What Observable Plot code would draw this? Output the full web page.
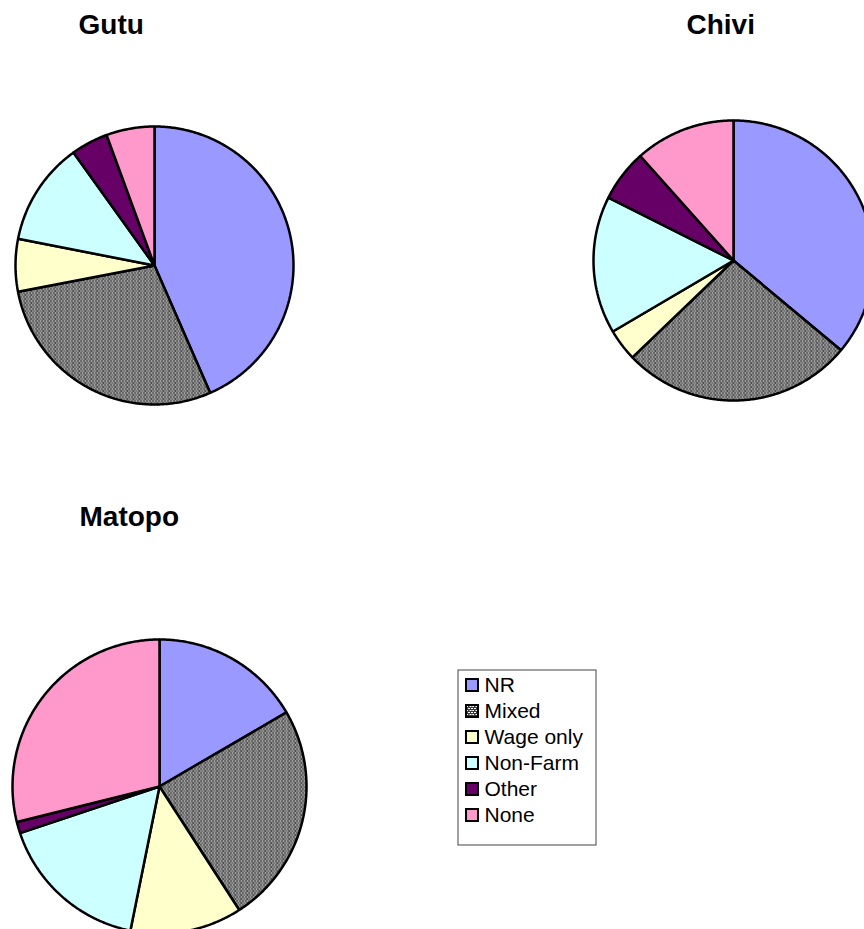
<!DOCTYPE html>
<html><head><meta charset="utf-8">
<script src="https://cdn.jsdelivr.net/npm/d3@7"></script>
<script src="https://cdn.jsdelivr.net/npm/@observablehq/plot@0.6"></script>
<style>
body{margin:0;background:#fff;}
#chart{width:864px;height:929px;overflow:hidden;}
</style>
</head><body><div id="chart"></div>
<script>
// ---- data ----
const categories = ["NR", "Mixed", "Wage only", "Non-Farm", "Other", "None"];
const regions = ["Gutu", "Chivi", "Matopo"];
const gutuShares = [43.4, 28.5, 6.1, 12.0, 4.3, 5.6];
const chiviShares = [36.1, 26.8, 3.7, 15.9, 6.0, 11.6];
const matopoShares = [16.6, 24.3, 12.3, 16.7, 1.25, 28.9];
const categoryColors = ["#9999FF", "url(#mixed-pattern)", "#FFFFCC", "#CCFFFF", "#660066", "#FF99CC"];

// ---- layout ----
const W = 864, H = 929;
const shares = [gutuShares, chiviShares, matopoShares];
const pieLayout = [
  {cx: 154, cy: 265, r: 139, tx: 78, ty: 25},
  {cx: 733, cy: 260, r: 140, tx: 686, ty: 25},
  {cx: 159, cy: 786, r: 147, tx: 79, ty: 517}
];
const legend = {x1: 458, x2: 596, y1: 670, y2: 845, sw: 12, sx: 466, tx: 484, row0: 685, step: 26};

const wedges = [];
regions.forEach((reg, i) => {
  const L = pieLayout[i];
  const arcs = d3.pie().sort(null)(shares[i]);
  arcs.forEach((a, j) => {
    const id = reg + "-" + j;
    const pts = [[L.cx, L.cy]];
    const n = Math.max(2, Math.ceil((a.endAngle - a.startAngle) / 0.01));
    for (let k = 0; k <= n; k++) {
      const t = a.startAngle + (a.endAngle - a.startAngle) * k / n;
      pts.push([L.cx + L.r * Math.sin(t), L.cy - L.r * Math.cos(t)]);
    }
    pts.push([L.cx, L.cy]);
    pts.forEach(p => wedges.push({id, cat: categories[j], x: p[0], y: p[1]}));
  });
});

const titles = regions.map((r, i) => ({name: r, x: pieLayout[i].tx, y: pieLayout[i].ty}));
const legendRows = categories.map((c, i) => ({cat: c, y: legend.row0 + legend.step * i}));

const chart = Plot.plot({
  width: W, height: H,
  margin: 0,
  x: {type: "identity", axis: null},
  y: {type: "identity", axis: null},
  color: {domain: categories, range: categoryColors},
  style: {fontFamily: "'Liberation Sans', Arial, sans-serif", background: "#fff", color: "#000"},
  marks: [
    Plot.line(wedges, {x: "x", y: "y", z: "id", fill: "cat", stroke: "#000", strokeWidth: 2.5, strokeLinejoin: "miter", curve: "linear"}),
    Plot.text(titles, {x: "x", y: "y", text: "name", textAnchor: "start", fontSize: 28, fontWeight: "bold", fill: "#000"}),
    Plot.rect([legend], {x1: "x1", x2: "x2", y1: "y1", y2: "y2", fill: "#fff", stroke: "#444", strokeWidth: 1}),
    Plot.rect(legendRows, {x1: () => legend.sx, x2: () => legend.sx + legend.sw, y1: d => d.y - legend.sw / 2, y2: d => d.y + legend.sw / 2, fill: "cat", stroke: "#000", strokeWidth: 2}),
    Plot.text(legendRows, {x: () => legend.tx, y: "y", text: "cat", textAnchor: "start", fontSize: 21, fill: "#000"})
  ]
});

const ns = "http://www.w3.org/2000/svg";
const defs = document.createElementNS(ns, "defs");
const pat = document.createElementNS(ns, "pattern");
pat.setAttribute("id", "mixed-pattern");
pat.setAttribute("patternUnits", "userSpaceOnUse");
pat.setAttribute("width", "6");
pat.setAttribute("height", "4");
const bg = document.createElementNS(ns, "rect");
bg.setAttribute("width", "6"); bg.setAttribute("height", "4"); bg.setAttribute("fill", "#3a3a3a");
pat.appendChild(bg);
[[0, 0], [3, 0], [1.5, 2], [4.5, 2]].forEach(([x, y]) => {
  const dot = document.createElementNS(ns, "rect");
  dot.setAttribute("x", x); dot.setAttribute("y", y);
  dot.setAttribute("width", "2"); dot.setAttribute("height", "1"); dot.setAttribute("fill", "#ffffff");
  pat.appendChild(dot);
});
[[-1.5, 2]].forEach(([x, y]) => {
  const dot = document.createElementNS(ns, "rect");
  dot.setAttribute("x", x + 6); dot.setAttribute("y", y);
  dot.setAttribute("width", "2"); dot.setAttribute("height", "1"); dot.setAttribute("fill", "#ffffff");
  pat.appendChild(dot);
});
defs.appendChild(pat);
chart.insertBefore(defs, chart.firstChild);

document.getElementById("chart").appendChild(chart);
</script>
</body></html>
